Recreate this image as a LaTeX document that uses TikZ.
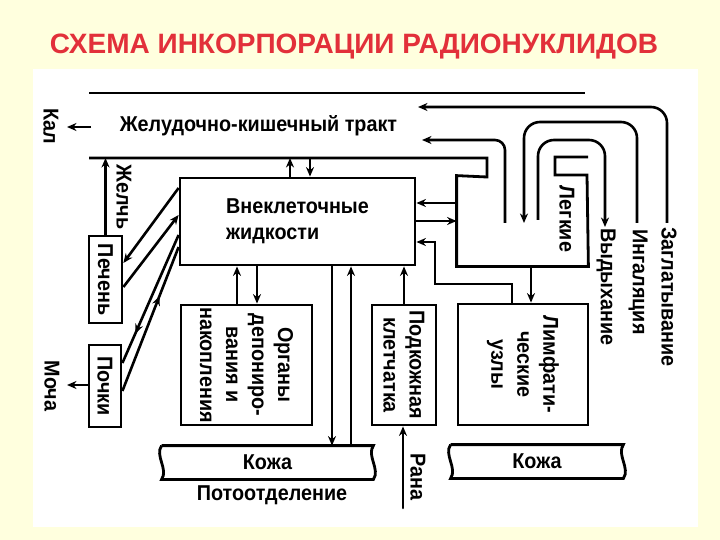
\documentclass[tikz,border=0pt]{standalone}
\usepackage{fontspec}
\setmainfont{Liberation Sans}[FakeStretch=0.92]
\newfontfamily\titlefont{Liberation Sans}
\usetikzlibrary{arrows.meta,decorations.markings}
\definecolor{bgyellow}{RGB}{255,255,222}
\definecolor{titlered}{RGB}{226,48,58}
\newcommand\lblfont{\bfseries\fontsize{21.5}{26}\selectfont}
\begin{document}
\begin{tikzpicture}[x=1pt,y=-1pt,line width=2.8pt,line join=miter,
  box/.style={draw,line width=2.8pt,inner sep=0pt},
  lbl/.style={font=\lblfont,inner sep=0pt,align=center},
  arr/.style={-{Stealth[length=9.5pt,width=8pt]},line width=2.6pt},
  midarr/.style={line width=2.6pt,postaction={decorate},decoration={markings,
     mark=at position #1 with {\arrow{Stealth[length=9.5pt,width=8pt]}}}}]
\useasboundingbox (0,0) rectangle (720,540);
\fill[bgyellow] (0,0) rectangle (720,540);
\fill[white] (33,69) rectangle (698,527);
\node[font=\titlefont\bfseries\fontsize{28}{30}\selectfont,text=titlered,inner sep=0pt] (title) at (354,47) {СХЕМА ИНКОРПОРАЦИИ РАДИОНУКЛИДОВ};

% boxes
\node[box,minimum width=235pt,minimum height=87pt,lbl,align=left] (ext) at (297.5,221.5) {Внеклеточные\\жидкости};
\node[box,minimum width=33pt,minimum height=87pt] (liver) at (105.5,279.5) {};
\node[lbl,rotate=-90] (liverT) at (liver) {Печень};
\node[box,minimum width=32pt,minimum height=82pt] (kidney) at (105,386) {};
\node[lbl,rotate=-90] (kidneyT) at (kidney) {Почки};
\node[box,minimum width=131pt,minimum height=120pt] (organs) at (246.5,365) {};
\node[lbl,rotate=-90] (organsT) at (organs) {Органы\\депониро-\\вания и\\накопления};
\node[box,minimum width=64pt,minimum height=120pt] (subcut) at (404,365) {};
\node[lbl,rotate=-90] (subcutT) at (subcut) {Подкожная\\клетчатка};
\node[box,minimum width=130pt,minimum height=121pt] (lymph) at (523,364.5) {};
\node[lbl,rotate=-90] (lymphT) at (lymph) {Лимфати-\\ческие\\узлы};
\node[inner sep=0pt,minimum width=129pt,minimum height=88pt] (lungs) at (522.5,221) {};
\node[lbl,rotate=-90] (lungsT) at (567,219) {Легкие};

% skin bands
\node[inner sep=0pt,minimum width=209pt,minimum height=31pt,lbl] (skin1) at (267.5,462.5) {Кожа};
\node[inner sep=0pt,minimum width=170pt,minimum height=31pt,lbl] (skin2) at (537,461.5) {Кожа};
\foreach \s in {skin1,skin2}{
  \draw (\s.north west) -- (\s.north east)
     .. controls +(-7,10) and +(7,-10) .. (\s.south east)
     -- (\s.south west)
     .. controls +(7,-10) and +(-7,10) .. (\s.north west);
}

% GI tract
\coordinate (gitop) at (89,93);
\coordinate (gibot) at (89,158);
\draw (gitop) -- (585,93);
\draw (gibot) -- (487,158) -- (487,177) -- (lungs.north west) -- (lungs.south west)
   -- (lungs.south east) -- (587,175) -- (555,175) -- (555,157) -- (588,157);
\node[lbl] (gi) at (258.5,126) {Желудочно-кишечный тракт};
\node[lbl,rotate=-90] (kal) at (51,126) {Кал};
\coordinate (kaltip) at (67,127);
\draw[arr] (91,127) -- (kaltip);

% breathing / swallowing
\coordinate (zagS) at (667,223);
\coordinate (zagE) at (418,107);
\draw[arr,rounded corners=16pt] (zagS) |- (zagE);
\coordinate (ingS) at (637,223);
\coordinate (ingE) at (524,223);
\draw[arr,rounded corners=16pt] (ingS) -- (637,122) -- (524,122) -- (ingE);
\coordinate (vydS) at (538,220);
\coordinate (vydE) at (605,227);
\draw[arr,rounded corners=16pt] (vydS) -- (538,140) -- (605,140) -- (vydE);
\coordinate (lgS) at (505,223);
\coordinate (lgE) at (422,140);
\draw[arr,rounded corners=10pt] (lgS) |- (lgE);
\node[lbl,rotate=-90] (zagT) at (669,297) {Заглатывание};
\node[lbl,rotate=-90] (ingT) at (638,282) {Ингаляция};
\node[lbl,rotate=-90] (vydT) at (606,287) {Выдыхание};

% ext <-> GI
\draw[arr] (290,0 |- ext.north) -- (290,0 |- gibot);
\draw[arr] (310,0 |- gibot) -- (310,0 |- ext.north);
% liver, kidney
\draw[arr] (liver.north) -- (liver.north |- gibot);
\node[lbl,rotate=-90] (bile) at (124,197) {Желчь};
\draw[arr] (ext.west |- 0,188) -- (liver.east |- 0,263);
\draw[arr] (liver.east |- 0,287) -- (ext.west |- 0,215);
\draw[midarr=0.77] (ext.west |- 0,235) -- (kidney.east |- 0,363);
\draw[midarr=0.66] (kidney.east |- 0,391) -- (ext.west |- 0,247);
\coordinate (urtip) at (67,385);
\draw[arr] (kidney.west |- 0,385) -- (urtip);
\node[lbl,rotate=-90] (urine) at (52,386) {Моча};

% ext <-> organs
\draw[arr] (237,0 |- organs.north) -- (237,0 |- ext.south);
\draw[arr] (257,0 |- ext.south) -- (257,0 |- organs.north);
% ext <-> skin
\draw[arr] (332,0 |- ext.south) -- (332,0 |- skin1.north);
\draw[arr] (351,0 |- skin1.north) -- (351,0 |- ext.south);
% subcut
\draw[arr] (subcut.north) -- (subcut.north |- ext.south);
\coordinate (wound) at (403,508);
\draw[arr,line cap=round] (wound) -- (403,0 |- subcut.south);
\node[lbl,rotate=-90] (woundT) at (418,477) {Рана};
\node[lbl] (sweat) at (272,495) {Потоотделение};

% lungs <-> ext
\draw[arr] (lungs.west |- 0,203) -- (ext.east |- 0,203);
\draw[arr] (ext.east |- 0,221) -- (lungs.west |- 0,221);
\draw[arr] (531,0 |- lungs.south) -- (531,0 |- lymph.north);
\draw[arr] (512,0 |- lymph.north) -- (512,284) -- (435,284) -- (435,242) -- (ext.east |- 0,242);
\end{tikzpicture}
\end{document}
